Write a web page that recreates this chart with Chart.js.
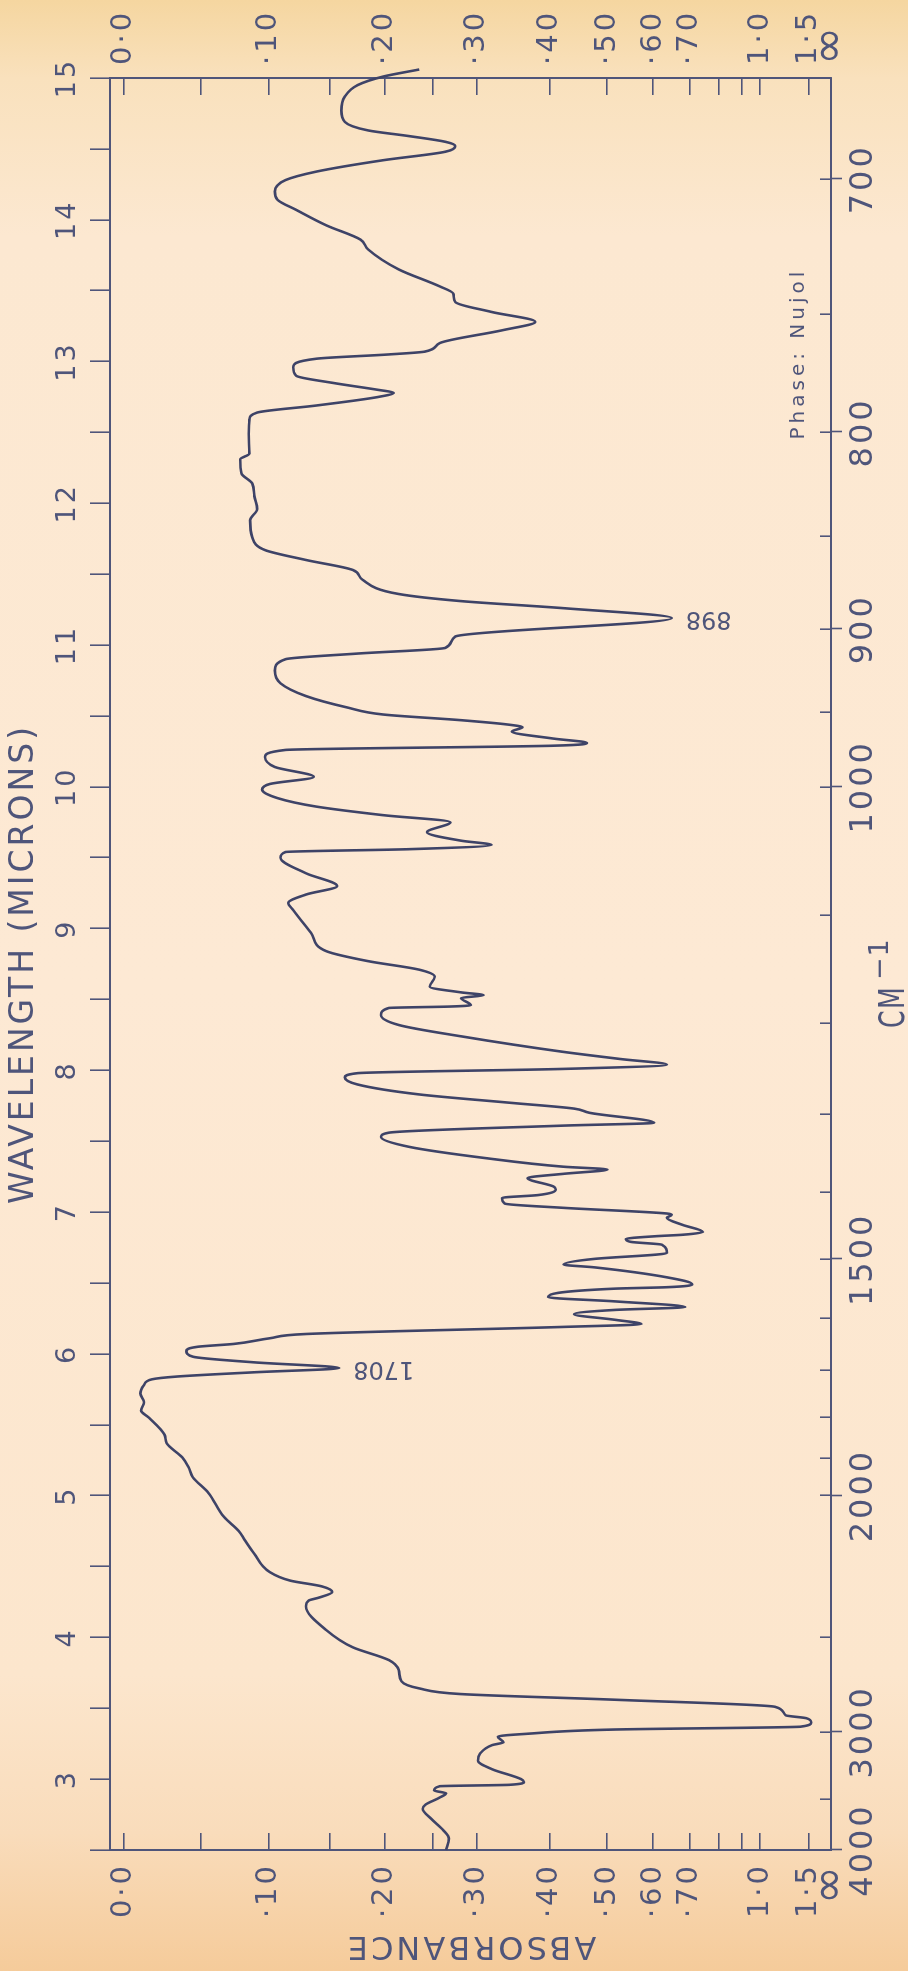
<!DOCTYPE html>
<html>
<head>
<meta charset="utf-8">
<script src="https://cdn.jsdelivr.net/npm/chart.js@4.4.0/dist/chart.umd.min.js"></script>
<style>
  html, body { margin: 0; padding: 0; }
  body {
    width: 908px; height: 1971px; overflow: hidden; position: relative;
    background: linear-gradient(180deg, #f5d6a0 0%, #f9e1bd 4%, #fce8d1 12%, #fde9d4 50%, #fce6cd 85%, #f9dcbb 93%, #f5cb9a 100%);
  }
  /* chart is drawn in landscape and turned a quarter turn, like the scanned page */
  #wrap {
    position: absolute; left: 0; top: 1971px;
    width: 1971px; height: 908px;
    transform-origin: 0 0; transform: rotate(-90deg);
  }
</style>
</head>
<body>
<div id="wrap"><canvas id="ir" width="1971" height="908"></canvas></div>
<script>
// ---- Spectrum trace (wavelength in microns, % transmittance of the chart paper) ----
const wavelength = [
  15.06, 15.01, 14.95, 14.87, 14.77, 14.69, 14.63, 14.59, 14.55, 14.52, 14.48, 14.42, 14.34, 14.28, 14.20,
  14.14, 14.07, 13.96, 13.86, 13.79, 13.65, 13.53, 13.48, 13.42, 13.35, 13.28, 13.22, 13.13, 13.07, 13.05,
  13.02, 12.96, 12.90, 12.85, 12.80, 12.78, 12.75, 12.69, 12.64, 12.59, 12.49, 12.35, 12.31, 12.21, 12.14,
  12.05, 11.96, 11.88, 11.76, 11.67, 11.60, 11.53, 11.46, 11.36, 11.31, 11.26, 11.19, 11.06, 10.98, 10.94,
  10.90, 10.82, 10.73, 10.64, 10.56, 10.51, 10.47, 10.44, 10.42, 10.39, 10.34, 10.31, 10.29, 10.26, 10.21,
  10.14, 10.07, 10.02, 9.98, 9.92, 9.86, 9.80, 9.75, 9.68, 9.62, 9.59, 9.56, 9.54, 9.50, 9.39,
  9.30, 9.24, 9.18, 9.13, 8.97, 8.84, 8.77, 8.71, 8.66, 8.59, 8.55, 8.53, 8.51, 8.46, 8.45,
  8.44, 8.39, 8.32, 8.24, 8.13, 8.08, 8.04, 8.01, 7.98, 7.95, 7.90, 7.83, 7.77, 7.73, 7.70,
  7.63, 7.61, 7.56, 7.53, 7.46, 7.38, 7.32, 7.30, 7.27, 7.24, 7.18, 7.16, 7.12, 7.10, 7.06,
  7.03, 6.99, 6.98, 6.96, 6.91, 6.86, 6.84, 6.83, 6.81, 6.79, 6.77, 6.71, 6.70, 6.67, 6.63,
  6.61, 6.54, 6.49, 6.47, 6.46, 6.40, 6.37, 6.33, 6.31, 6.28, 6.24, 6.21, 6.19, 6.14, 6.11,
  6.07, 6.05, 6.02, 5.98, 5.94, 5.90, 5.87, 5.84, 5.82, 5.78, 5.72, 5.66, 5.60, 5.55, 5.43,
  5.37, 5.27, 5.20, 5.13, 5.02, 4.85, 4.75, 4.69, 4.59, 4.46, 4.40, 4.36, 4.32, 4.28, 4.26,
  4.22, 4.05, 3.93, 3.84, 3.77, 3.69, 3.64, 3.60, 3.56, 3.51, 3.45, 3.43, 3.40, 3.37, 3.35,
  3.32, 3.30, 3.26, 3.24, 3.18, 3.13, 3.07, 3.00, 2.98, 2.96, 2.95, 2.92, 2.90, 2.87, 2.82,
  2.79, 2.72, 2.64, 2.58, 2.50
];
const transmittance = [
  58.2, 63.3, 66.9, 68.7, 69.2, 68.7, 65.4, 59.6, 54.5, 53.1, 54.5, 63.3, 72.7, 77.1, 78.6,
  78.2, 75.6, 71.3, 66.5, 65.4, 61.1, 55.3, 53.4, 53.1, 48.0, 41.8, 46.5, 55.3, 57.4, 62.5,
  72.7, 76.0, 75.6, 70.5, 64.0, 61.8, 64.0, 72.7, 81.1, 82.2, 82.3, 82.2, 83.5, 83.3, 81.8,
  81.5, 81.1, 82.1, 81.8, 80.0, 74.2, 67.6, 66.2, 61.1, 52.3, 37.8, 22.5, 53.1, 54.5, 66.9,
  77.1, 78.6, 77.8, 74.2, 68.4, 63.3, 52.3, 45.8, 43.6, 45.1, 39.2, 34.5, 39.2, 77.1, 80.0,
  78.6, 73.1, 79.3, 80.4, 78.2, 72.7, 63.3, 53.8, 57.1, 52.3, 48.0, 59.6, 77.1, 77.8, 74.2,
  69.8, 74.2, 76.7, 76.0, 73.5, 71.3, 65.4, 58.2, 56.0, 56.7, 52.3, 49.1, 52.3, 50.9, 53.8,
  62.5, 63.6, 61.1, 52.3, 37.8, 29.8, 23.2, 37.8, 66.9, 68.7, 66.9, 58.2, 45.1, 36.3, 34.1,
  25.0, 37.8, 62.5, 63.6, 59.6, 48.7, 37.8, 31.6, 37.8, 42.9, 39.2, 38.9, 41.4, 46.5, 46.1,
  37.8, 23.2, 22.5, 23.2, 21.0, 18.1, 21.0, 24.7, 29.0, 28.3, 23.9, 23.2, 24.7, 33.4, 37.8,
  33.4, 23.2, 19.6, 23.2, 30.5, 40.0, 30.5, 20.6, 30.5, 36.3, 30.5, 26.8, 37.8, 74.2, 79.3,
  84.4, 89.5, 91.1, 90.2, 81.5, 69.5, 81.5, 92.4, 96.0, 97.1, 97.6, 97.1, 97.5, 96.4, 94.2,
  93.9, 91.7, 90.8, 90.2, 88.0, 85.8, 83.7, 82.9, 81.5, 79.3, 76.4, 72.0, 70.5, 72.4, 73.8,
  74.2, 71.3, 67.6, 62.5, 61.1, 60.7, 58.2, 52.3, 30.5, 7.9, 6.4, 3.5, 2.8, 4.3, 30.5,
  42.9, 47.1, 46.3, 47.9, 49.6, 49.9, 47.9, 43.8, 43.4, 45.4, 55.3, 56.1, 54.4, 55.3, 57.3,
  57.7, 56.5, 54.8, 54.0, 54.4
];

// ---- Axis ticks ----
const micronTicks = [2.5, 3, 3.5, 4, 4.5, 5, 5.5, 6, 6.5, 7, 7.5, 8, 8.5, 9, 9.5, 10, 10.5, 11, 11.5, 12, 12.5, 13, 13.5, 14, 14.5, 15];
const micronLabelled = [3, 4, 5, 6, 7, 8, 9, 10, 11, 12, 13, 14, 15];
const wavenumberTicks = [700, 750, 800, 850, 900, 950, 1000, 1100, 1200, 1300, 1400, 1500, 1600, 1700, 1800, 1900, 2000, 2500, 3000, 3500, 4000];
const wavenumberLabelled = [700, 800, 900, 1000, 1500, 2000, 3000, 4000];
const absorbanceTicks = [0, 0.05, 0.10, 0.15, 0.20, 0.25, 0.30, 0.40, 0.50, 0.60, 0.70, 0.80, 0.90, 1.0, 1.5, Infinity];
const absorbanceLabelValues = [0, 0.1, 0.2, 0.3, 0.4, 0.5, 0.6, 0.7, 1.0, 1.5, Infinity];
const absorbanceLabels = ['0·0', '·10', '·20', '·30', '·40', '·50', '·60', '·70', '1·0', '1·5', '∞'];

// ---- Annotations ----
const peakLabels = ['898', '1708'];
const peakMicrons = [11.19, 5.90];
const phaseNote = 'Phase: Nujol';

const INK = '#4f557a';
const TRACE = '#3e4367';
const FONT = "'DejaVu Sans', 'Liberation Sans', sans-serif";

// absorbance -> % transmittance (the chart paper is linear in T)
const toT = a => (a === Infinity ? 0 : 100 * Math.pow(10, -a));

function absorbanceLabel(value) {
  const i = absorbanceLabelValues.findIndex(a => Math.abs(toT(a) - value) < 0.01);
  return i < 0 ? '' : absorbanceLabels[i];
}

const absorbanceScale = (position, width, padding) => ({
  type: 'linear',
  position,
  min: 0,
  max: 101.9,
  afterBuildTicks: s => { s.ticks = absorbanceTicks.map(a => ({ value: toT(a) })).sort((p, q) => p.value - q.value); },
  afterFit: s => { s.width = width; },
  ticks: {
    autoSkip: false, padding, color: INK,
    // the infinity sign is lettered much larger than the digits
    font: c => ({ family: FONT, size: c.tick && c.tick.value === 0 ? 46 : 29 }),
    callback: v => absorbanceLabel(v)
  },
  grid: { drawOnChartArea: false, tickLength: -17, color: INK, lineWidth: 1.6 },
  border: { display: true, color: INK, width: 2 }
});

// ---- Extras: spacing of the lettering, "+" ticks, peak numbers, notes ----
const lettering = {
  id: 'lettering',
  beforeUpdate(chart) { chart.ctx.letterSpacing = '3px'; },
  beforeDraw(chart) { chart.ctx.letterSpacing = '3px'; },
  afterDraw(chart) {
    const { ctx, chartArea, scales } = chart;
    ctx.save();
    ctx.strokeStyle = INK;
    ctx.lineWidth = 1.6;
    // labelled wavenumber ticks cross the frame
    wavenumberLabelled.forEach(wn => {
      const u = Math.round(scales.x2.getPixelForValue(10000 / wn)) + 0.5;
      ctx.beginPath();
      ctx.moveTo(u, chartArea.bottom);
      ctx.lineTo(u, chartArea.bottom + 11);
      ctx.stroke();
    });

    // peak numbers, written along the peaks
    ctx.fillStyle = INK;
    ctx.letterSpacing = '0px';
    ctx.font = `24px ${FONT}`;
    ctx.textAlign = 'right';
    ctx.textBaseline = 'middle';
    const meta = chart.getDatasetMeta(0);
    peakMicrons.forEach((w, k) => {
      const pt = meta.data[wavelength.indexOf(w)];
      ctx.save();
      ctx.translate(pt.x, pt.y + 14);
      ctx.rotate(-Math.PI / 2);
      ctx.fillText(peakLabels[k], 0, 0);
      ctx.restore();
    });

    // phase note
    ctx.textAlign = 'left';
    ctx.textBaseline = 'alphabetic';
    ctx.font = `20px ${FONT}`;
    ctx.letterSpacing = '4px';
    ctx.fillText(phaseNote, scales.x.getPixelForValue(12.45), chartArea.bottom - 27);

    // CM-1 axis title, narrow lettering
    ctx.letterSpacing = '2px';
    const cx = (chartArea.left + chartArea.right) / 2 - 64;
    ctx.save();
    ctx.translate(cx, chartArea.bottom + 73);
    ctx.scale(0.72, 1);
    ctx.font = `35px ${FONT}`;
    ctx.fillText('CM', 0, 0);
    ctx.restore();
    ctx.font = `27px ${FONT}`;
    ctx.letterSpacing = '1px';
    ctx.fillText('−1', cx + 48, chartArea.bottom + 57);
    ctx.restore();
  }
};

new Chart(document.getElementById('ir'), {
  type: 'scatter',
  data: {
    datasets: [{
      data: wavelength.map((w, i) => ({ x: w, y: transmittance[i] })),
      showLine: true,
      borderColor: TRACE,
      borderWidth: 2.6,
      pointRadius: 0,
      cubicInterpolationMode: 'monotone',
      clip: false,
      xAxisID: 'x',
      yAxisID: 'y'
    }]
  },
  options: {
    responsive: false,
    animation: false,
    events: [],
    layout: { padding: 0 },
    plugins: { legend: { display: false }, tooltip: { enabled: false } },
    scales: {
      x: {
        type: 'linear',
        position: 'top',
        min: 2.5,
        max: 15,
        afterBuildTicks: s => { s.ticks = micronTicks.map(v => ({ value: v })); },
        afterFit: s => { s.height = 110; },
        ticks: {
          autoSkip: false, maxRotation: 0, minRotation: 0, padding: 6, color: INK,
          font: { family: FONT, size: 27 },
          callback: v => (micronLabelled.includes(v) ? String(v) : '')
        },
        grid: { drawOnChartArea: false, tickLength: 20, color: INK, lineWidth: 1.6 },
        border: { display: true, color: INK, width: 2 },
        title: { display: true, text: 'WAVELENGTH (MICRONS)', color: INK, font: { family: FONT, size: 33 }, padding: { top: 5, bottom: 0 } }
      },
      x2: {
        type: 'linear',
        position: 'bottom',
        min: 2.5,
        max: 15,
        afterBuildTicks: s => { s.ticks = wavenumberTicks.map(wn => ({ value: 10000 / wn })); },
        afterFit: s => { s.height = 77; },
        ticks: {
          autoSkip: false, maxRotation: 0, minRotation: 0, padding: 24, color: INK,
          font: { family: FONT, size: 32 },
          callback: (v, i) => (wavenumberLabelled.includes(wavenumberTicks[i]) ? String(wavenumberTicks[i]) : '')
        },
        grid: { drawOnChartArea: false, tickLength: -11, color: INK, lineWidth: 1.6 },
        border: { display: true, color: INK, width: 2 }
      },
      y: Object.assign(absorbanceScale('left', 121, 30), {
        title: { display: true, text: 'ABSORBANCE', color: INK, font: { family: FONT, size: 32 }, padding: { top: 6, bottom: 0 } }
      }),
      y2: absorbanceScale('right', 78, 30)
    }
  },
  plugins: [lettering]
});
</script>
</body>
</html>
